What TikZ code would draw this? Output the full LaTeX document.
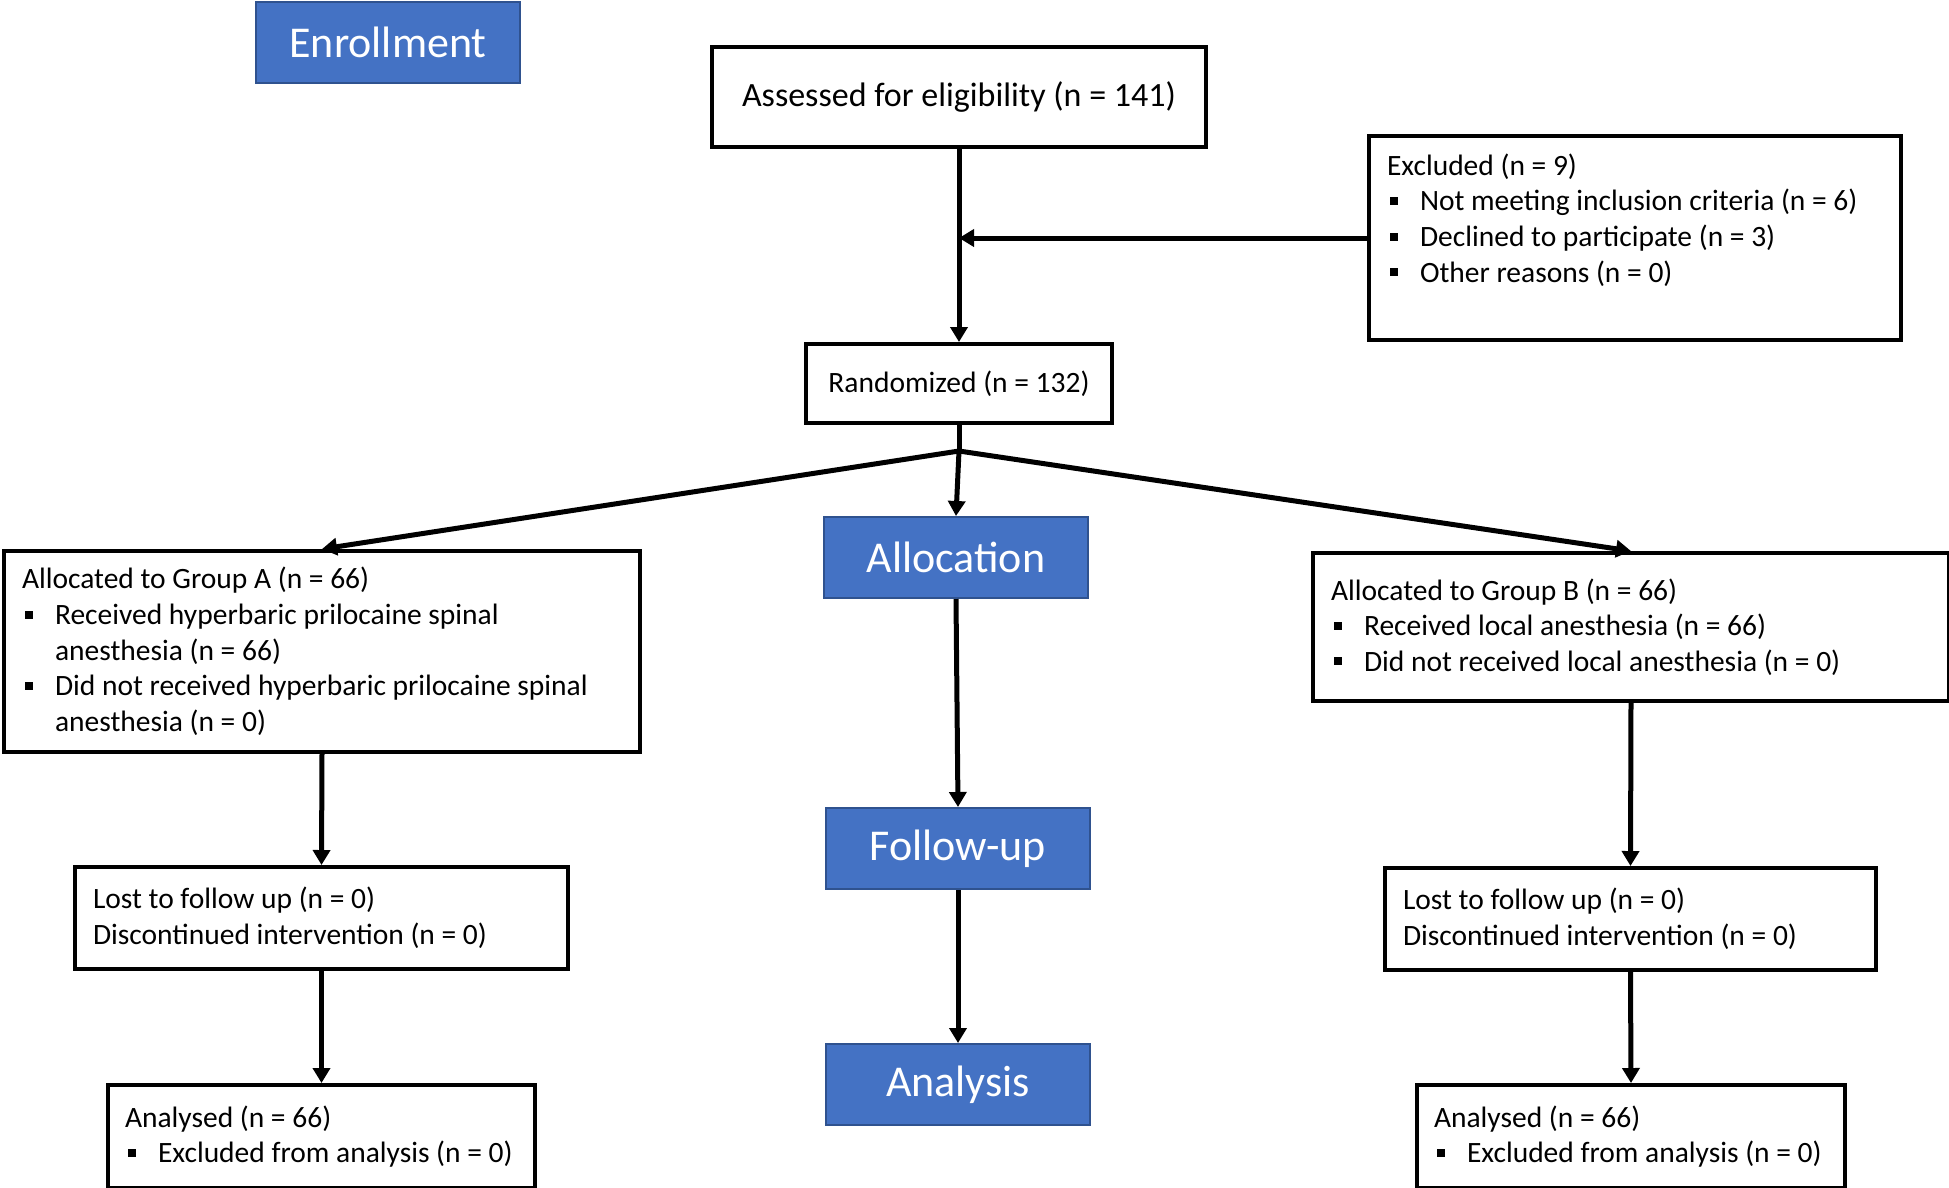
\documentclass[tikz,border=0pt]{standalone}
\usepackage{fontspec}
\setmainfont{Carlito}
\usetikzlibrary{arrows.meta}
\definecolor{stageblue}{RGB}{68,114,196}
\definecolor{stageedge}{RGB}{47,82,143}
\newcommand{\sq}{\makebox[33pt][l]{\hspace{3pt}\rule[6pt]{8pt}{8pt}}}
\newcommand{\hang}{\hspace*{33pt}}
\newcommand{\bodyfont}{\fontsize{29.5}{35.7}\selectfont}
\begin{document}
\begin{tikzpicture}[x=1pt,y=-1pt,
    box/.style={draw,line width=4pt,anchor=north west,inner xsep=18pt,inner ysep=0pt,
                align=left,font=\bodyfont,
                execute at begin node={\spaceskip=0pt\xspaceskip=0pt}},
    stage/.style={draw=stageedge,fill=stageblue,line width=2pt,anchor=north west,
                  text=white,font=\fontsize{44}{52}\selectfont,
                  minimum width=264pt,minimum height=81pt,inner sep=0pt},
    conn/.style={line width=5pt},
    arr/.style={line width=5pt,-{Triangle[length=15pt,width=17pt]}}]%{{{
\useasboundingbox (0,0) rectangle (1949,1187);
%
% Stages
\node [stage] (enrol)  at (255,1)    {Enrollment};
\node [stage] (alloc)  at (823,516)  {Allocation};
\node [stage] (follow) at (825,807)  {Follow-up};
\node [stage] (analys) at (825,1043) {Analysis};
%
% Enrollment
\node [box,align=center,minimum width=494pt,minimum height=100pt,inner xsep=0pt,
       font=\fontsize{34}{41}\selectfont] (assessed) at (710,45)
      {Assessed for eligibility (n = 141)};
\node [box,text width=496pt,minimum height=204pt] (excluded) at (1367,134)
      {Excluded (n = 9)\\
       \sq Not meeting inclusion criteria (n = 6)\\
       \sq Declined to participate (n = 3)\\
       \sq Other reasons (n = 0)\rule[-40pt]{0pt}{40pt}};
\node [box,align=center,minimum width=306pt,minimum height=79pt,inner xsep=0pt] (random) at (804,342)
      {Randomized (n = 132)};
%
% Allocation
\node [box,text width=600pt,minimum height=201pt] (groupA) at (2,549)
      {Allocated to Group A (n = 66)\\
       \sq Received hyperbaric prilocaine spinal\\
       \hang anesthesia (n = 66)\\
       \sq Did not received hyperbaric prilocaine spinal\\
       \hang anesthesia (n = 0)};
\node [box,text width=600pt,minimum height=148pt] (groupB) at (1311,551)
      {Allocated to Group B (n = 66)\\
       \sq Received local anesthesia (n = 66)\\
       \sq Did not received local anesthesia (n = 0)};
%
% Follow-up
\node [box,text width=457pt,minimum height=102pt] (lostA) at (73,865)
      {Lost to follow up (n = 0)\\
       Discontinued intervention (n = 0)};
\node [box,text width=455pt,minimum height=102pt] (lostB) at (1383,866)
      {Lost to follow up (n = 0)\\
       Discontinued intervention (n = 0)};
%
% Analysis
\node [box,text width=393pt,minimum height=103pt,inner xsep=17pt] (analysedA) at (106,1083)
      {Analysed (n = 66)\\
       \sq Excluded from analysis (n = 0)};
\node [box,text width=394pt,minimum height=103pt,inner xsep=17pt] (analysedB) at (1415,1083)
      {Analysed (n = 66)\\
       \sq Excluded from analysis (n = 0)};
%
% Main line
\draw [arr] (assessed.south) -- (random.north);
\draw [arr] (excluded.west) -- (excluded.west -| assessed.south);
%
% Split
\path (random.south) ++(0,26) coordinate (split);
\draw [conn] (random.south) -- (split);
\draw [arr] (split) -- (groupA.north);
\draw [arr] (split) -- (groupB.north);
\draw [arr] (split) -- (alloc.north);
%
% Stage line
\draw [arr] (alloc.south)  -- (follow.north);
\draw [arr] (follow.south) -- (analys.north);
%
% Groups
\draw [arr] (groupA.south) -- (lostA.north);
\draw [arr] (lostA.south)  -- (analysedA.north);
\draw [arr] (groupB.south) -- (lostB.north);
\draw [arr] (lostB.south)  -- (analysedB.north);
%
\end{tikzpicture}
\end{document}
